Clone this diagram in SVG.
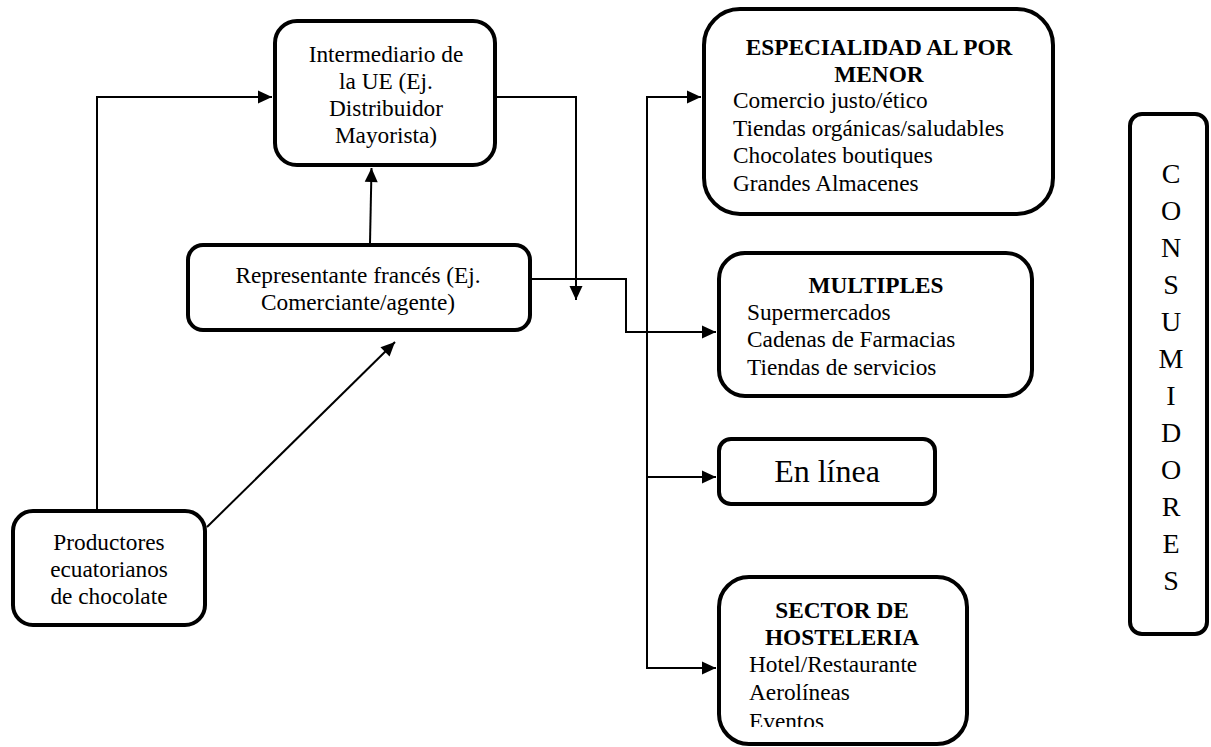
<svg xmlns="http://www.w3.org/2000/svg" width="1211" height="747" viewBox="0 0 1211 747">
<defs>
<style>
.box{fill:#fff;stroke:#000;stroke-width:4}
.t{font-family:"Liberation Serif","Times New Roman",serif;font-size:23.3px;fill:#000}
.c{text-anchor:middle}
.b{font-weight:bold}
.v{font-size:28px}
.ln{fill:none;stroke:#000;stroke-width:2}
</style>
<marker id="ah" markerUnits="userSpaceOnUse" markerWidth="16" markerHeight="16" viewBox="0 0 16 16" refX="15" refY="8" orient="auto">
<path d="M1,1.5 L15,8 L1,14.5 Z" fill="#000"/>
</marker>
<clipPath id="clipS"><rect x="700" y="560" width="300" height="167"/></clipPath>
</defs>
<rect width="1211" height="747" fill="#fff"/>

<g id="connectors">
<polyline class="ln" points="97,509 97,97 272,97" marker-end="url(#ah)"/>
<line class="ln" x1="207" y1="527" x2="395" y2="342" marker-end="url(#ah)"/>
<line class="ln" x1="370" y1="243" x2="371.5" y2="168" marker-end="url(#ah)"/>
<polyline class="ln" points="497,97 576,97 576,300" marker-end="url(#ah)"/>
<polyline class="ln" points="532,279 626,279 626,332 716,332" marker-end="url(#ah)"/>
<line class="ln" x1="647" y1="97" x2="647" y2="669"/>
<line class="ln" x1="646" y1="97" x2="701" y2="97" marker-end="url(#ah)"/>
<line class="ln" x1="646" y1="477" x2="716" y2="477" marker-end="url(#ah)"/>
<line class="ln" x1="646" y1="668" x2="716" y2="668" marker-end="url(#ah)"/>
</g>

<g id="intermediario">
<rect class="box" x="275" y="21" width="220" height="144" rx="22"/>
<text class="t c" x="386" y="62">Intermediario de</text>
<text class="t c" x="386" y="89">la UE (Ej.</text>
<text class="t c" x="386" y="116">Distribuidor</text>
<text class="t c" x="386" y="143">Mayorista)</text>
</g>

<g id="representante">
<rect class="box" x="188" y="245" width="342" height="85" rx="15"/>
<text class="t c" x="358" y="283">Representante francés (Ej.</text>
<text class="t c" x="358" y="310">Comerciante/agente)</text>
</g>

<g id="productores">
<rect class="box" x="13" y="511" width="192" height="114" rx="20"/>
<text class="t c" x="109" y="550">Productores</text>
<text class="t c" x="109" y="577">ecuatorianos</text>
<text class="t c" x="109" y="604">de chocolate</text>
</g>

<g id="especialidad">
<rect class="box" x="704" y="9" width="349" height="205" rx="36"/>
<text class="t c b" x="879" y="55">ESPECIALIDAD AL POR</text>
<text class="t c b" x="879" y="82">MENOR</text>
<text class="t" x="733" y="108">Comercio justo/ético</text>
<text class="t" x="733" y="136">Tiendas orgánicas/saludables</text>
<text class="t" x="733" y="163">Chocolates boutiques</text>
<text class="t" x="733" y="191">Grandes Almacenes</text>
</g>

<g id="multiples">
<rect class="box" x="719" y="253" width="313" height="143" rx="26"/>
<text class="t c b" x="876" y="293">MULTIPLES</text>
<text class="t" x="747" y="320">Supermercados</text>
<text class="t" x="747" y="347">Cadenas de Farmacias</text>
<text class="t" x="747" y="375">Tiendas de servicios</text>
</g>

<g id="enlinea">
<rect class="box" x="719" y="439" width="216" height="65" rx="12"/>
<text class="t c" x="827" y="482" style="font-size:32px">En línea</text>
</g>

<g id="hosteleria">
<rect class="box" x="719" y="577" width="248" height="167" rx="30"/>
<text class="t c b" x="842" y="618">SECTOR DE</text>
<text class="t c b" x="842" y="645">HOSTELERIA</text>
<text class="t" x="749" y="672">Hotel/Restaurante</text>
<text class="t" x="749" y="700">Aerolíneas</text>
<text class="t" x="749" y="729" clip-path="url(#clipS)">Eventos</text>
</g>

<g id="consumidores">
<rect class="box" x="1130" y="114" width="77" height="520" rx="12"/>
<text class="t c v" x="1171" y="183">C</text>
<text class="t c v" x="1171" y="220">O</text>
<text class="t c v" x="1171" y="257">N</text>
<text class="t c v" x="1171" y="294">S</text>
<text class="t c v" x="1171" y="331">U</text>
<text class="t c v" x="1171" y="368">M</text>
<text class="t c v" x="1171" y="405">I</text>
<text class="t c v" x="1171" y="442">D</text>
<text class="t c v" x="1171" y="479">O</text>
<text class="t c v" x="1171" y="516">R</text>
<text class="t c v" x="1171" y="553">E</text>
<text class="t c v" x="1171" y="590">S</text>
</g>
</svg>
